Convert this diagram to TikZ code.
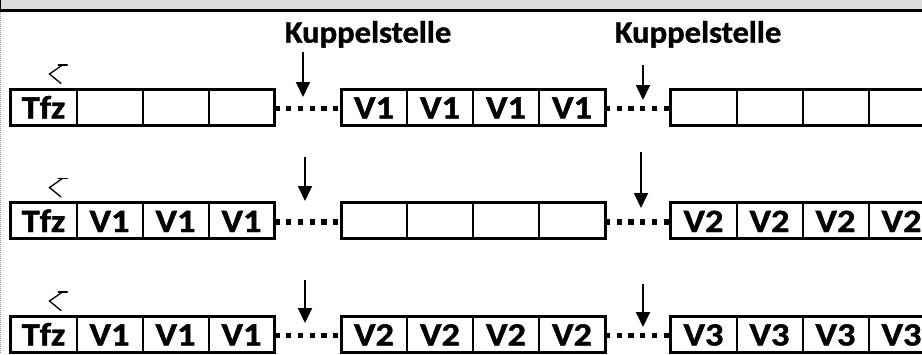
\documentclass[tikz,border=0pt]{standalone}
\usepackage{fontspec}
\setmainfont{Carlito}[BoldFeatures={FakeBold=1.2}]
\usetikzlibrary{arrows.meta}
\definecolor{bandgray}{RGB}{221,221,221}
\definecolor{edgegray}{RGB}{150,150,150}
\tikzset{
  cell/.style={draw, line width=2pt, minimum width=66pt, minimum height=36pt,
               inner sep=0pt, outer sep=0pt, anchor=north west},
  segframe/.style={draw, line width=3pt, minimum width=264pt, minimum height=36pt,
                   inner sep=0pt, outer sep=0pt, anchor=north west},
  celltext/.style={anchor=base, inner sep=0pt, xscale=1.12,
                   font=\fontsize{32.5}{36}\selectfont\bfseries},
  headtext/.style={anchor=base, inner sep=0pt, xscale=1.05,
                   font=\fontsize{31}{34}\selectfont\bfseries},
  coupling/.style={line width=5.5pt, dash pattern=on 5.2pt off 6.5pt},
  pointer/.style={line width=1.8pt, -{Triangle[length=15pt,width=14pt]}},
  tick/.style={line width=1.3pt, line cap=round, line join=miter}
}
\begin{document}
\begin{tikzpicture}[x=1pt,y=-1pt]
\useasboundingbox (0,0) rectangle (922,354);
\clip (0,0) rectangle (922,354);

% header band and frame edges
\fill[bandgray] (0,0) rectangle (922,9.3);
\draw[line width=2.7pt] (0,10.65) -- (922,10.65);
\draw[line width=1pt] (0.5,0) -- (0.5,10);
\draw[edgegray, line width=1pt, dash pattern=on 1pt off 1pt] (0.8,12) -- (0.8,354);

% labels of the coupling points
\node[headtext] (kup1) at (368,42.7) {Kuppelstelle};
\node[headtext] (kup2) at (698,42.7) {Kuppelstelle};

% three rows of train segments
\foreach \r/\top/\contents in {
  1/89/{{Tfz,,,},{V1,V1,V1,V1},{,,,}},
  2/202.5/{{Tfz,V1,V1,V1},{,,,},{V2,V2,V2,V2}},
  3/316/{{Tfz,V1,V1,V1},{V2,V2,V2,V2},{V3,V3,V3,V3}}} {
  \foreach \seg [count=\s] in \contents {
    \pgfmathsetmacro{\xs}{{10.5,341,670.5}[\s-1]}
    \foreach \lab [count=\c] in \seg {
      \node[cell] (r\r s\s c\c) at ({\xs+66*(\c-1)},\top) {};
      \node[celltext] (t\r s\s c\c) at ({\xs+66*(\c-1)+33},\top+29.5) {\lab};
    }
    \node[segframe] (seg\r s\s) at (\xs,\top) {};
  }
  % dotted couplings between segments
  \draw[coupling] ([yshift=-1.5pt]seg\r s1.east) -- ([yshift=-1.5pt]seg\r s2.west);
  \draw[coupling] ([yshift=-1.5pt]seg\r s2.east) -- ([yshift=-1.5pt]seg\r s3.west);
  % small direction mark above the traction unit
  \draw[tick] (58.3,\top-24) -- (67.3,\top-24);
  \draw[tick] (62,\top-23.7) -- (49.5,\top-15) -- (61,\top-5.5);
}

% arrows pointing at the coupling points
\coordinate (p11a) at (303,52);  \coordinate (p11b) at (303,97);
\coordinate (p12a) at (643,65);  \coordinate (p12b) at (643,100);
\coordinate (p21a) at (305,157); \coordinate (p21b) at (305,201);
\coordinate (p22a) at (641,152); \coordinate (p22b) at (641,208);
\coordinate (p31a) at (305,280); \coordinate (p31b) at (305,323);
\coordinate (p32a) at (643,284); \coordinate (p32b) at (643,327);
\foreach \p in {11,12,21,22,31,32}
  \draw[pointer] (p\p a) -- (p\p b);
\end{tikzpicture}
\end{document}
